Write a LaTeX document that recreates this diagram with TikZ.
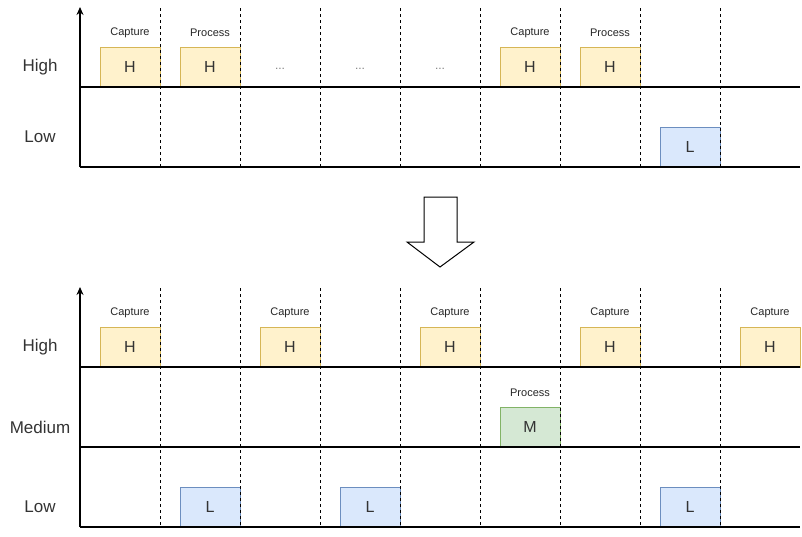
\documentclass[tikz,border=0pt]{standalone}
\usepackage{fontspec}
\setmainfont{Liberation Sans}
\usetikzlibrary{arrows.meta}
\definecolor{hfill}{HTML}{FFF2CC}\definecolor{hline}{HTML}{D6B656}
\definecolor{lfill}{HTML}{DAE8FC}\definecolor{lline}{HTML}{6C8EBF}
\definecolor{mfill}{HTML}{D5E8D4}\definecolor{mline}{HTML}{82B366}
\definecolor{txt}{HTML}{333333}
\tikzset{
  slotbox/.style={minimum width=60pt,minimum height=40pt,inner sep=0pt,line width=1pt,text=txt,font=\fontsize{16}{16}\selectfont},
  hbox/.style={slotbox,draw=hline,fill=hfill},
  lbox/.style={slotbox,draw=lline,fill=lfill},
  mbox/.style={slotbox,draw=mline,fill=mfill},
  captxt/.style={inner sep=0pt,font=\fontsize{11}{11}\selectfont,text=black!85},
  lvltxt/.style={inner sep=0pt,font=\fontsize{17}{17}\selectfont,text=txt},
  dotstxt/.style={inner sep=0pt,font=\fontsize{12}{12}\selectfont,text=gray},
  gridline/.style={line width=1pt,dash pattern=on 3pt off 3pt},
  axisline/.style={line width=1.2pt},
}
\begin{document}
\begin{tikzpicture}[x=1pt,y=-1pt]
\useasboundingbox (0,0) rectangle (802,536);
% ---------- top chart ----------
\node[lvltxt] (th) at (40,67) {High};
\node[lvltxt] (tl) at (40,137) {Low};
\node[hbox] (t1) at (130,67) {H};
\node[captxt] (t1c) at (130,33) {Capture};
\node[hbox] (t2) at (210,67) {H};
\node[captxt] (t2c) at (210,33) {Process};
\node[dotstxt] (d1) at (280,69) {...};
\node[dotstxt] (d2) at (360,69) {...};
\node[dotstxt] (d3) at (440,69) {...};
\node[hbox] (t3) at (530,67) {H};
\node[captxt] (t3c) at (530,33) {Capture};
\node[hbox] (t4) at (610,67) {H};
\node[captxt] (t4c) at (610,33) {Process};
\node[lbox] (t5) at (690,147) {L};
\foreach \x in {160,240,...,720} \draw[gridline] (\x,8) -- (\x,167);
\draw[axisline] (80,87) -- (800,87);
\draw[axisline] (80,167) -- (800,167);
\draw[axisline,-{Stealth[length=8pt,width=7pt]}] (80,167) -- (80,7);
% ---------- block arrow ----------
\draw[line width=1pt,fill=white,line join=miter]
  (424,197) -- (457,197) -- (457,242) -- (474,242) -- (440,267) -- (407,242) -- (424,242) -- cycle;
% ---------- bottom chart ----------
\node[lvltxt] (bh) at (40,347) {High};
\node[lvltxt] (bm) at (40,427) {Medium};
\node[lvltxt] (bl) at (40,507) {Low};
\foreach \x/\n in {130/1,290/2,450/3,610/4,770/5} {
  \node[hbox] (b\n) at (\x,347) {H};
  \node[captxt] (b\n c) at (\x,313) {Capture};
}
\node[mbox] (m1) at (530,427) {M};
\node[captxt] (m1c) at (530,393) {Process};
\node[lbox] (l1) at (210,507) {L};
\node[lbox] (l2) at (370,507) {L};
\node[lbox] (l3) at (690,507) {L};
\foreach \x in {160,240,...,720} \draw[gridline] (\x,288) -- (\x,527);
\draw[axisline] (80,367) -- (800,367);
\draw[axisline] (80,447) -- (800,447);
\draw[axisline] (80,527) -- (800,527);
\draw[axisline,-{Stealth[length=8pt,width=7pt]}] (80,527) -- (80,287);
\end{tikzpicture}
\end{document}
